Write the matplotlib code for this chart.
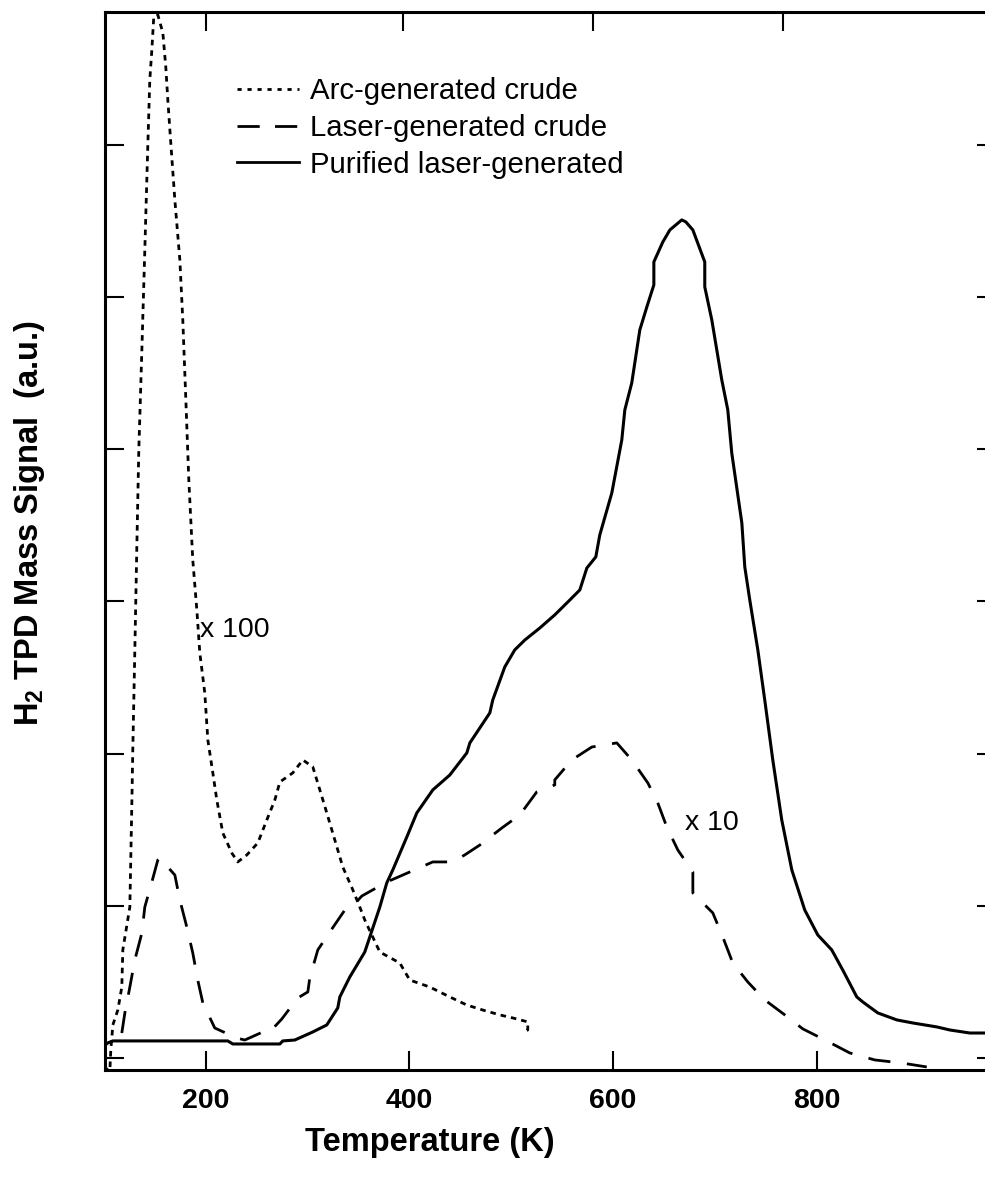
import matplotlib
matplotlib.use("Agg")
import matplotlib.pyplot as plt
from matplotlib.lines import Line2D


# ===============================
# Data
# ===============================

# purified laser-generated (solid)
pure_T = [101, 103.8, 108.7, 221.6, 226.5, 272.7, 275.6, 287.4, 305.1, 318.8,
          329.6, 331.6, 341.4, 356.1, 370.9, 377.7, 383.6, 397.4, 407.2, 422.9,
          439.6, 456.3, 459.3, 478.9, 481.8, 493.6, 503.4, 513.3, 528.0, 542.7,
          557.5, 567.3, 574.2, 583.0, 586.9, 598.7, 608.5, 611.5, 618.3, 626.2,
          633.1, 640.0, 640.0, 648.8, 655.7, 667.4, 671.4, 678.3, 690.0, 690.0,
          696.9, 706.7, 712.6, 716.5, 726.4, 729.3, 734.2, 742.1, 748.9, 756.8,
          765.6, 775.5, 788.2, 801.0, 814.7, 825.5, 839.3, 845.2, 859.9, 878.6,
          894.3, 917.9, 930.6, 950.3, 965.0, 976.0]
pure_S = [0.085, 0.099, 0.112, 0.112, 0.092, 0.092, 0.112, 0.118, 0.171, 0.217,
          0.329, 0.401, 0.532, 0.696, 0.992, 1.150, 1.235, 1.452, 1.610, 1.761,
          1.859, 2.004, 2.070, 2.267, 2.352, 2.569, 2.681, 2.746, 2.825, 2.911,
          3.009, 3.075, 3.219, 3.292, 3.436, 3.712, 4.060, 4.258, 4.435, 4.783,
          4.934, 5.079, 5.230, 5.361, 5.440, 5.506, 5.493, 5.440, 5.230, 5.066,
          4.849, 4.455, 4.258, 3.975, 3.515, 3.226, 3.009, 2.681, 2.352, 1.958,
          1.564, 1.235, 0.972, 0.808, 0.710, 0.578, 0.401, 0.368, 0.296, 0.250,
          0.230, 0.204, 0.184, 0.164, 0.164, 0.160]

# laser-generated crude, x10 (dashed)
laser_T = [117.5, 120.5, 125.4, 130.3, 137.2, 140.1, 147.0, 152.9, 154.8, 169.6,
           174.5, 181.3, 187.2, 192.1, 197.1, 208.8, 230.4, 238.3, 256.0, 262.8,
           274.6, 290.3, 300.2, 302.1, 310.0, 321.8, 336.5, 343.4, 353.2, 377.7,
           400.3, 422.9, 442.6, 454.3, 469.1, 490.7, 508.4, 525.0, 542.7, 542.7,
           559.4, 579.1, 603.6, 618.3, 634.1, 643.9, 652.7, 663.5, 678.3, 678.3,
           697.9, 707.7, 717.5, 732.3, 749.0, 768.6, 786.3, 809.8, 832.4, 857.0,
           883.5, 908.0]
laser_S = [0.164, 0.296, 0.466, 0.644, 0.821, 0.992, 1.156, 1.301, 1.314, 1.202,
           1.038, 0.861, 0.690, 0.512, 0.361, 0.197, 0.131, 0.118, 0.171, 0.171,
           0.256, 0.394, 0.434, 0.526, 0.710, 0.828, 0.972, 0.992, 1.064, 1.156,
           1.222, 1.288, 1.288, 1.334, 1.399, 1.511, 1.597, 1.748, 1.794, 1.827,
           1.958, 2.043, 2.070, 1.958, 1.807, 1.675, 1.518, 1.367, 1.222, 1.084,
           0.953, 0.795, 0.624, 0.499, 0.381, 0.283, 0.191, 0.112, 0.033, -0.013,
           -0.033, -0.059]

# arc-generated crude, x100 (dotted)
arc_T = [101.8, 105.7, 106.7, 108.7, 113.6, 117.5, 118.5, 125.4, 127.3, 128.3,
         130.3, 132.2, 134.2, 137.2, 140.1, 143.0, 145.0, 147.0, 148.9, 152.9,
         157.8, 160.7, 162.7, 165.6, 169.6, 174.5, 177.4, 180.4, 183.3, 187.2,
         191.2, 194.1, 199.0, 202.0, 206.9, 210.8, 216.7, 225.5, 231.4, 240.3,
         251.1, 259.9, 267.8, 272.7, 285.4, 295.3, 305.1, 312.0, 318.8, 326.7,
         334.5, 344.4, 351.2, 356.1, 363.0, 370.9, 390.5, 400.3, 420.0, 439.6,
         456.3, 472.0, 488.7, 501.5, 516.2, 516.2, 511.3]
arc_S = [-0.066, -0.092, 0.053, 0.217, 0.315, 0.466, 0.710, 0.992, 1.649, 2.024,
         2.681, 3.338, 3.995, 4.652, 5.309, 5.985, 6.426, 6.623, 6.840, 6.853,
         6.735, 6.511, 6.294, 6.012, 5.637, 5.243, 4.849, 4.323, 3.798, 3.272,
         2.943, 2.661, 2.398, 2.089, 1.873, 1.695, 1.478, 1.347, 1.288, 1.334,
         1.413, 1.564, 1.695, 1.813, 1.873, 1.958, 1.912, 1.761, 1.610, 1.432,
         1.255, 1.104, 0.992, 0.907, 0.808, 0.696, 0.624, 0.512, 0.466, 0.401,
         0.348, 0.315, 0.283, 0.263, 0.237, 0.184, 0.171]

x_ticks = [200, 400, 600, 800]
top_ticks = [200, 394, 580, 767]
y_ticks = [0, 1, 2, 3, 4, 5, 6]

labels = ["Arc-generated crude", "Laser-generated crude", "Purified laser-generated"]


# ===============================
# Style
# ===============================

plt.rcParams["font.family"] = ["Liberation Sans", "DejaVu Sans"]
plt.rcParams["mathtext.fontset"] = "custom"
plt.rcParams["mathtext.rm"] = "Liberation Sans"
plt.rcParams["mathtext.bf"] = "Liberation Sans:bold"

DOT = (0, (2, 1.8))
DASH = (0, (8, 6))
LW = 2.0


# ===============================
# Plot
# ===============================

fig = plt.figure(figsize=(9.85, 11.84), dpi=100)
ax = fig.add_axes([105 / 985, 1 - 1070 / 1184, 891 / 985, 1058 / 1184])

ax.plot(arc_T, arc_S, color="black", lw=LW, linestyle=DOT)
ax.plot(laser_T, laser_S, color="black", lw=LW, linestyle=DASH)
ax.plot(pure_T, pure_S, color="black", lw=2.2, linestyle="-")

ax.set_xlim(101, 976)
ax.set_ylim(-0.079, 6.872)

ax.set_xticks(x_ticks)
ax.set_xticklabels([str(t) for t in x_ticks], fontsize=20.5, fontweight="bold")
ax.set_yticks(y_ticks)
ax.set_yticklabels([])
ax.tick_params(axis="x", direction="in", length=14, width=1.5, pad=13,
               top=False, bottom=True)
ax.tick_params(axis="y", direction="in", length=14, width=1.5,
               left=True, right=True)
for sp in ax.spines.values():
    sp.set_linewidth(2.2)

# top ticks sit at their own positions
top = ax.twiny()
top.set_xlim(ax.get_xlim())
top.set_xticks(top_ticks)
top.set_xticklabels([])
top.tick_params(axis="x", direction="in", length=14, width=1.5)
for sp in top.spines.values():
    sp.set_visible(False)

ax.text(194, 2.81, "x 100", fontsize=20.5, va="center", ha="left")
ax.text(670.4, 1.544, "x 10", fontsize=20.5, va="center", ha="left")

handles = [
    Line2D([], [], color="black", lw=LW, linestyle=(0, (1.5, 2.1))),
    Line2D([], [], color="black", lw=LW, linestyle=(0, (8, 5.5))),
    Line2D([], [], color="black", lw=LW, linestyle="-"),
]
fig.legend(handles, labels, loc="upper left",
           bbox_to_anchor=(237 / 985, 1 - 77 / 1184),
           frameon=False, fontsize=21.2, handlelength=2.1, handletextpad=0.37,
           labelspacing=0.3, borderpad=0, borderaxespad=0)

fig.text(430 / 985, 1 - 1143 / 1184, "Temperature (K)", fontsize=23.5,
         fontweight="bold", ha="center", va="center")
fig.text(30 / 985, 1 - 523 / 1184, r"H$_\mathbf{2}$ TPD Mass Signal  (a.u.)",
         fontsize=23.5, fontweight="bold", rotation=90, ha="center", va="center")

fig.savefig("out.png", dpi=100)
